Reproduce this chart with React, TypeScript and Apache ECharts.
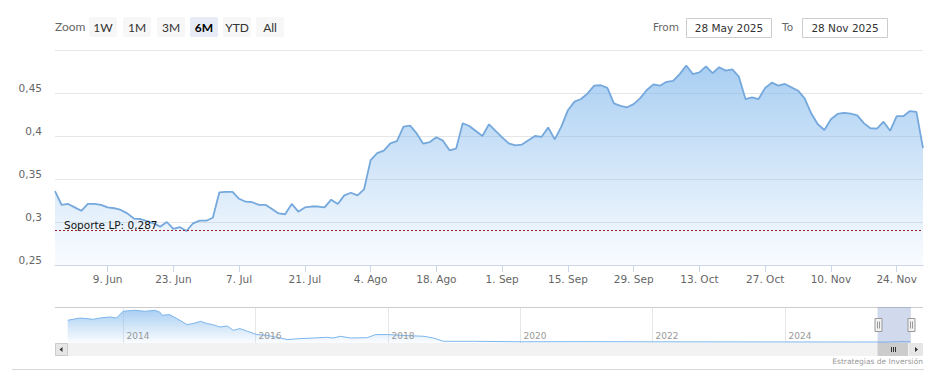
import React, { useEffect, useRef } from 'react';
import * as echarts from 'echarts';

// ---------- DATA ----------
const startDate = '2025-05-28';
const endDate = '2025-11-28';

// closing values, one per trading day (weekdays) from 28 May 2025 to 28 Nov 2025
const priceValues = [
  0.336, 0.320, 0.321, 0.317, 0.313, 0.321, 0.321, 0.320, 0.317, 0.316,
  0.314, 0.310, 0.304, 0.3035, 0.301, 0.2985, 0.2946, 0.300, 0.292, 0.294,
  0.2895, 0.2985, 0.3015, 0.3015, 0.305, 0.3345, 0.335, 0.335, 0.327, 0.3236,
  0.323, 0.320, 0.320, 0.315, 0.310, 0.309, 0.321, 0.312, 0.317, 0.318,
  0.318, 0.317, 0.326, 0.321, 0.331, 0.334, 0.331, 0.338, 0.372, 0.380,
  0.383, 0.3915, 0.394, 0.411, 0.412, 0.403, 0.391, 0.393, 0.3985, 0.3946,
  0.3834, 0.3853, 0.4148, 0.4116, 0.4058, 0.400, 0.4136, 0.406, 0.3985, 0.3915,
  0.389, 0.390, 0.395, 0.400, 0.399, 0.410, 0.396, 0.411, 0.430, 0.440,
  0.443, 0.4496, 0.4585, 0.459, 0.456, 0.438, 0.435, 0.4334, 0.437, 0.444,
  0.4535, 0.460, 0.4585, 0.463, 0.464, 0.472, 0.482, 0.472, 0.474, 0.481,
  0.473, 0.480, 0.476, 0.4775, 0.469, 0.443, 0.445, 0.443, 0.456, 0.462,
  0.4585, 0.4605, 0.4566, 0.4527, 0.4438, 0.4264, 0.4136, 0.407, 0.4194, 0.4256,
  0.427, 0.426, 0.424, 0.415, 0.409, 0.4085, 0.4166, 0.406, 0.423, 0.423,
  0.429, 0.428, 0.386,
];

const xTickDates = [
  '2025-06-09', '2025-06-23', '2025-07-07', '2025-07-21', '2025-08-04', '2025-08-18',
  '2025-09-01', '2025-09-15', '2025-09-29', '2025-10-13', '2025-10-27', '2025-11-10', '2025-11-24',
];
const monthNames = ['Ene', 'Feb', 'Mar', 'Abr', 'May', 'Jun', 'Jul', 'Ago', 'Sep', 'Oct', 'Nov', 'Dic'];

const supportLevel = 0.287;
const supportLabel = 'Soporte LP: 0,287';

const yMin = 0.25;
const yMax = 0.5;
const yStep = 0.05;

// long history shown in the navigator
const navHistoryDates = [
  '2013-03-01', '2013-05-08', '2013-07-20', '2013-08-25', '2013-10-20', '2013-11-25',
  '2014-01-01', '2014-03-05', '2014-05-01', '2014-06-25', '2014-07-22', '2014-08-05',
  '2014-09-15', '2014-10-25', '2014-12-20', '2015-01-22', '2015-03-05', '2015-04-10',
  '2015-05-10', '2015-06-20', '2015-07-30', '2015-09-01', '2015-10-08', '2015-11-18',
  '2016-01-10', '2016-03-05', '2016-05-18', '2016-06-25', '2016-09-05', '2016-11-18',
  '2017-02-01', '2017-03-05', '2017-04-15', '2017-06-10', '2017-09-10', '2017-10-25',
  '2018-01-01', '2018-03-15', '2018-07-20', '2018-09-10', '2018-11-05', '2019-04-20',
  '2020-01-01', '2021-01-01', '2022-01-01', '2023-01-01', '2024-01-01', '2025-01-02',
];
const navHistoryValues = [
  7.69, 8.47, 8.03, 8.47, 8.81, 8.47,
  10.75, 11.08, 10.75, 11.08, 10.51, 9.39,
  9.63, 8.27, 6.24, 6.58, 7.36, 6.58,
  6.24, 5.42, 5.76, 4.31, 4.88, 3.97,
  2.85, 2.61, 1.69, 1.15, 1.49, 1.69,
  1.93, 1.69, 2.27, 1.69, 1.8, 2.85,
  2.85, 2.61, 2.27, 1.69, 0.58, 0.58,
  0.41, 0.45, 0.40, 0.38, 0.35, 0.33,
];
const navYearTicks = [2014, 2016, 2018, 2020, 2022, 2024];
const navRangeStart = '2012-12-21';
const navRangeEnd = '2026-02-03';

const zoomButtons = ['1W', '1M', '3M', '6M', 'YTD', 'All'];
const selectedZoom = '6M';
const zoomTitle = 'Zoom';
const fromTitle = 'From';
const toTitle = 'To';
const fromText = '28 May 2025';
const toText = '28 Nov 2025';
const creditText = 'Estrategias de Inversión';

// ---------- helpers ----------
function utc(s: string): number {
  const [y, m, d] = s.split('-').map(Number);
  return Date.UTC(y, m - 1, d);
}
function weekdays(start: string, end: string): string[] {
  const out: string[] = [];
  const d = new Date(utc(start));
  const e = utc(end);
  while (d.getTime() <= e) {
    const w = d.getUTCDay();
    if (w !== 0 && w !== 6) out.push(d.toISOString().slice(0, 10));
    d.setUTCDate(d.getUTCDate() + 1);
  }
  return out;
}
function dateLabel(s: string): string {
  const d = new Date(utc(s));
  return `${d.getUTCDate()}. ${monthNames[d.getUTCMonth()]}`;
}
function fmtY(v: number): string {
  return String(+v.toFixed(2)).replace('.', ',');
}

const FONT = 'DejaVu Sans';
const BTN_FONT = 'Lato';

export default function App() {
  const ref = useRef<HTMLDivElement>(null);

  useEffect(() => {
    if (!ref.current) return;
    const chart = echarts.init(ref.current, undefined, { renderer: 'svg' });

    const categories = weekdays(startDate, endDate);
    const tickSet = new Set(xTickDates.map((d) => categories.indexOf(d)));
    const showTick = (idx: number) => tickSet.has(idx);

    const navData: [number, number][] = [
      ...navHistoryDates.map((d, i) => [utc(d), navHistoryValues[i]] as [number, number]),
      ...categories.map((d, i) => [utc(d), priceValues[i]] as [number, number]),
    ];

    const plotTop = 50;
    const plotBottom = 265;
    const navTop = 307;
    const navH = 36;
    const left = 55;
    const right = 923;

    chart.setOption({
      animation: false,
      textStyle: { fontFamily: FONT },
      grid: [
        { left, right: 948 - right, top: plotTop, height: plotBottom - plotTop },
        { left, right: 948 - right, top: navTop, height: navH },
      ],
      xAxis: [
        {
          type: 'category',
          gridIndex: 0,
          data: categories,
          boundaryGap: false,
          axisLine: { lineStyle: { color: '#ccd6eb' } },
          axisTick: { show: true, interval: (i: number) => showTick(i), length: 7, lineStyle: { color: '#ccd6eb' } },
          axisLabel: {
            interval: (i: number) => showTick(i),
            formatter: (v: string) => dateLabel(v),
            color: '#666',
            fontSize: 10.5,
            margin: 8,
          },
          splitLine: { show: false },
        },
        {
          type: 'time',
          gridIndex: 1,
          min: utc(navRangeStart),
          max: utc(navRangeEnd),
          axisLine: { show: false },
          axisTick: { show: false },
          axisLabel: { show: false },
          splitLine: { show: false },
        },
      ],
      yAxis: [
        {
          type: 'value',
          gridIndex: 0,
          min: yMin,
          max: yMax,
          interval: yStep,
          axisLine: { show: false },
          axisTick: { show: false },
          axisLabel: {
            color: '#666',
            fontSize: 10.5,
            margin: 13,
            verticalAlign: 'bottom',
            formatter: (v: number) => (v >= yMax - 1e-9 ? '' : fmtY(v)),
          },
          splitLine: { lineStyle: { color: '#e6e6e6' } },
        },
        {
          type: 'value',
          gridIndex: 1,
          min: 0,
          max: 12.2,
          show: false,
          splitLine: { show: false },
        },
      ],
      series: [
        {
          type: 'line',
          xAxisIndex: 0,
          yAxisIndex: 0,
          data: priceValues,
          showSymbol: false,
          symbol: 'none',
          lineStyle: { color: '#75a8dc', width: 1.8 },
          areaStyle: {
            color: {
              type: 'linear',
              x: 0, y: plotTop, x2: 0, y2: plotBottom,
              global: true,
              colorStops: [
                { offset: 0, color: 'rgba(124,181,236,1)' },
                { offset: 1, color: 'rgba(124,181,236,0.06)' },
              ],
            },
          },
          markLine: {
            silent: true,
            symbol: ['none', 'none'],
            data: [{ yAxis: supportLevel }],
            lineStyle: { color: '#9b1c2c', type: [2, 2], width: 1 },
            label: {
              show: true,
              position: 'insideStartTop',
              formatter: supportLabel,
              color: '#111',
              fontSize: 10.5,
              fontFamily: FONT,
              distance: [9, 0],
            },
          },
          z: 3,
        },
        {
          type: 'line',
          xAxisIndex: 1,
          yAxisIndex: 1,
          data: navData,
          showSymbol: false,
          symbol: 'none',
          lineStyle: { color: '#7cb5ec', width: 1 },
          areaStyle: {
            color: {
              type: 'linear',
              x: 0, y: navTop, x2: 0, y2: navTop + navH,
              global: true,
              colorStops: [
                { offset: 0, color: 'rgba(124,181,236,1)' },
                { offset: 1, color: 'rgba(124,181,236,0.05)' },
              ],
            },
          },
          z: 3,
        },
      ],
    });

    const px = (t: number) => chart.convertToPixel({ xAxisIndex: 1 }, t) as number;
    const maskL = px(utc(startDate));
    const maskR = px(utc(endDate));

    const g: any[] = [];
    // range selector
    g.push({ type: 'text', left: 55, top: 20, style: { text: zoomTitle, fill: '#666', fontSize: 12, fontFamily: BTN_FONT }, z: 20 });
    const btnX = [89, 123, 157, 190, 223, 256];
    zoomButtons.forEach((b, i) => {
      const sel = b === selectedZoom;
      g.push({
        type: 'rect',
        shape: { x: btnX[i], y: 17, width: 28, height: 20, r: 2 },
        style: { fill: sel ? '#e6ebf5' : '#f7f7f7' },
        z: 20,
      });
      g.push({
        type: 'text',
        x: btnX[i] + 14,
        y: 27,
        style: {
          text: b,
          fill: sel ? '#000' : '#333',
          fontSize: 12,
          fontWeight: sel ? 'bold' : 'normal',
          fontFamily: BTN_FONT,
          align: 'center',
          verticalAlign: 'middle',
        },
        z: 21,
      });
    });
    // date inputs
    g.push({ type: 'text', x: 653, y: 27, style: { text: fromTitle, fill: '#666', fontSize: 10.5, fontFamily: FONT, align: 'left', verticalAlign: 'middle' }, z: 20 });
    g.push({ type: 'rect', shape: { x: 686.5, y: 18.5, width: 85, height: 19 }, style: { fill: '#fff', stroke: '#cccccc', lineWidth: 1 }, z: 20 });
    g.push({ type: 'text', x: 729, y: 28, style: { text: fromText, fill: '#333', fontSize: 10.5, fontFamily: FONT, align: 'center', verticalAlign: 'middle' }, z: 21 });
    g.push({ type: 'text', x: 782, y: 27, style: { text: toTitle, fill: '#666', fontSize: 10.5, fontFamily: FONT, align: 'left', verticalAlign: 'middle' }, z: 20 });
    g.push({ type: 'rect', shape: { x: 802.5, y: 18.5, width: 85, height: 19 }, style: { fill: '#fff', stroke: '#cccccc', lineWidth: 1 }, z: 20 });
    g.push({ type: 'text', x: 845, y: 28, style: { text: toText, fill: '#333', fontSize: 10.5, fontFamily: FONT, align: 'center', verticalAlign: 'middle' }, z: 21 });

    // navigator year grid and labels
    navYearTicks.forEach((yr) => {
      const x = Math.round(px(Date.UTC(yr, 0, 1))) + 0.5;
      g.push({ type: 'line', shape: { x1: x, y1: navTop, x2: x, y2: navTop + navH }, style: { stroke: '#e6e6e6', lineWidth: 1 }, z: 1 });
      g.push({ type: 'text', x: x + 3, y: navTop + navH - 7, style: { text: String(yr), fill: '#999', fontSize: 9, fontFamily: FONT, align: 'left', verticalAlign: 'middle' }, z: 5 });
    });
    // navigator outline
    g.push({ type: 'line', shape: { x1: left, y1: navTop + 0.5, x2: right, y2: navTop + 0.5 }, style: { stroke: '#cccccc', lineWidth: 1 }, z: 6 });
    // mask
    g.push({ type: 'rect', shape: { x: maskL, y: navTop, width: maskR - maskL, height: navH }, style: { fill: 'rgba(102,133,194,0.3)' }, z: 7 });
    // handles
    [maskL, maskR].forEach((hx) => {
      const x = Math.round(hx) + 0.5;
      g.push({ type: 'rect', shape: { x: x - 3.5, y: 318.5, width: 7, height: 13 }, style: { fill: '#f2f2f2', stroke: '#999', lineWidth: 1 }, z: 8 });
      g.push({ type: 'line', shape: { x1: x - 1, y1: 321.5, x2: x - 1, y2: 328.5 }, style: { stroke: '#999', lineWidth: 1 }, z: 9 });
      g.push({ type: 'line', shape: { x1: x + 1, y1: 321.5, x2: x + 1, y2: 328.5 }, style: { stroke: '#999', lineWidth: 1 }, z: 9 });
    });
    // scrollbar
    const sbY = navTop + navH;
    const sbH = 13;
    g.push({ type: 'rect', shape: { x: left, y: sbY, width: right - left, height: sbH }, style: { fill: '#f2f2f2' }, z: 6 });
    const thumbR = Math.min(maskR, right - 15);
    g.push({ type: 'rect', shape: { x: maskL, y: sbY, width: thumbR - maskL, height: sbH }, style: { fill: '#cccccc' }, z: 7 });
    const tc = Math.round((maskL + thumbR) / 2) + 0.5;
    [-2, 0, 2].forEach((o) => {
      g.push({ type: 'line', shape: { x1: tc + o, y1: sbY + 4, x2: tc + o, y2: sbY + 9 }, style: { stroke: '#333', lineWidth: 1 }, z: 8 });
    });
    g.push({ type: 'rect', shape: { x: left + 0.5, y: sbY + 0.5, width: 12, height: 12 }, style: { fill: '#e6e6e6', stroke: '#cccccc', lineWidth: 1 }, z: 8 });
    g.push({ type: 'polygon', shape: { points: [[left + 4.5, sbY + 6.5], [left + 7.5, sbY + 4], [left + 7.5, sbY + 9]] }, style: { fill: '#333' }, z: 9 });
    g.push({ type: 'rect', shape: { x: right - 13.5, y: sbY + 0.5, width: 13, height: 12 }, style: { fill: '#e6e6e6', stroke: '#e6e6e6', lineWidth: 1 }, z: 8 });
    g.push({ type: 'polygon', shape: { points: [[right - 5, sbY + 6.5], [right - 8, sbY + 4], [right - 8, sbY + 9]] }, style: { fill: '#333' }, z: 9 });
    // bottom separator and credits
    g.push({ type: 'line', shape: { x1: 12, y1: 369.5, x2: 924, y2: 369.5 }, style: { stroke: '#d8d8d8', lineWidth: 1 }, z: 6 });
    g.push({ type: 'text', x: 923, y: 361, style: { text: creditText, fill: '#999', fontSize: 7.5, fontFamily: FONT, align: 'right', verticalAlign: 'middle' }, z: 6 });

    chart.setOption({ graphic: g });

    return () => chart.dispose();
  }, []);

  return <div ref={ref} style={{ position: 'absolute', left: 0, top: 0, width: 948, height: 376 }} />;
}
